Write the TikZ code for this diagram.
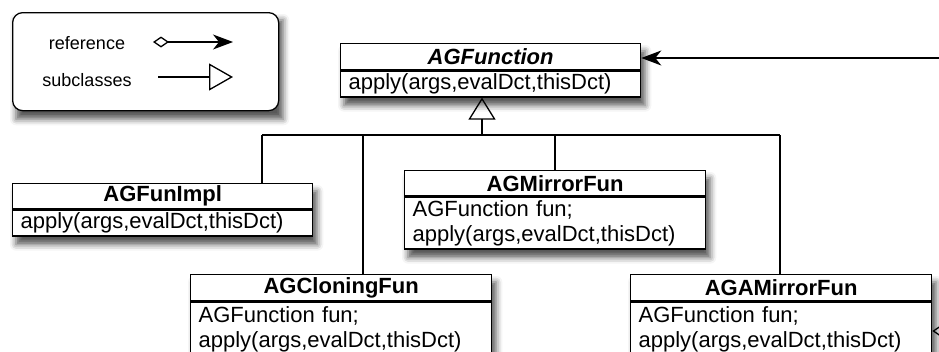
\documentclass[tikz,border=0pt]{standalone}
\usepackage{fontspec}
\setmainfont{Liberation Sans}
\usetikzlibrary{arrows.meta,shadows.blur,backgrounds}
\tikzset{
 cls/.style={draw, line width=1.3pt, fill=white, anchor=north west, inner xsep=8pt, inner ysep=0pt},
 hdr/.style={cls, font=\fontsize{22}{25}\selectfont\bfseries, align=center},
 bdy/.style={cls, font=\fontsize{22}{25}\selectfont, align=left},
 shd/.style={blur shadow={shadow xshift=4pt, shadow yshift=-8pt, shadow opacity=65, shadow blur radius=6pt}},
 conn/.style={line width=1.3pt},
 lgtext/.style={font=\fontsize{18}{20}\selectfont},
 reftip/.style={-{Stealth[length=20pt,width=15pt,inset=6pt]}},
}
\begin{document}
\begin{tikzpicture}[x=1pt,y=-1pt]
\useasboundingbox (0,0) rectangle (939,351);
\clip (0,0) rectangle (939,351);

% legend
\node[draw, line width=1.3pt, rounded corners=10pt, fill=white, anchor=north west,
      minimum width=266pt, minimum height=98pt, inner sep=0pt] (leg) at (12,12) {};
\node[lgtext] (lref) at (87,43) {reference};
\node[lgtext] (lsub) at (87,80) {subclasses};
\coordinate (r1) at (153,42); \coordinate (r2) at (233,42);
\coordinate (s1) at (158,77); \coordinate (s2) at (233,77);
\draw[conn, {Diamond[open,length=16pt,width=11pt]}-{Stealth[length=20pt,width=15pt,inset=6pt]}] (r1) -- (r2);
\draw[conn, -{Triangle[open,length=24pt,width=27pt]}] (s1) -- (s2);

% classes
\node[hdr, minimum width=300pt, minimum height=26pt] (fun) at (340,43) {\textit{AGFunction}};
\node[bdy, text width=284pt, minimum height=26pt] (funb) at (fun.south west) {apply(args,evalDct,thisDct)};

\node[hdr, minimum width=300pt, minimum height=25pt] (impl) at (12,183) {AGFunImpl};
\node[bdy, text width=284pt, minimum height=26pt] (implb) at (impl.south west) {apply(args,evalDct,thisDct)};

\node[hdr, minimum width=301pt, minimum height=25pt] (mirr) at (404,170) {AGMirrorFun};
\node[bdy, text width=285pt, minimum height=52pt] (mirrb) at (mirr.south west) {AGFunction fun;\\apply(args,evalDct,thisDct)};

\node[hdr, minimum width=301pt, minimum height=26pt] (clon) at (190,274) {AGCloningFun};
\node[bdy, text width=285pt, minimum height=54pt] (clonb) at (clon.south west) {AGFunction fun;\\apply(args,evalDct,thisDct)};

\node[hdr, minimum width=301pt, minimum height=26pt] (amir) at (630,274) {AGAMirrorFun};
\node[bdy, text width=285pt, minimum height=54pt] (amirb) at (amir.south west) {AGFunction fun;\\apply(args,evalDct,thisDct)};

% inheritance
\coordinate (jc) at (482,135);
\coordinate (b1) at (262,135);
\coordinate (b2) at (363,135);
\coordinate (b3) at (555,135);
\coordinate (b4) at (780,135);
\draw[conn, -{Triangle[open,length=22pt,width=27pt]}] (jc) -- (jc |- funb.south);
\draw[conn] (b1) -- (b4);
\draw[conn] (b1) -- (b1 |- impl.north);
\draw[conn] (b2) -- (b2 |- clon.north);
\draw[conn] (b3) -- (b3 |- mirr.north);
\draw[conn] (b4) -- (b4 |- amir.north);

% references
\coordinate (rin) at (945,58);
\draw[conn, reftip] (rin) -- (rin -| fun.east);
\coordinate (dout) at (955,331);
\draw[conn, {Diamond[open,length=16pt,width=11pt]}-] (amirb.east |- dout) -- (dout);

% shadows
\begin{scope}[on background layer]
 \path[shd] (leg.north west) rectangle (leg.south east);
 \path[shd] (fun.north west) rectangle (funb.south east);
 \path[shd] (impl.north west) rectangle (implb.south east);
 \path[shd] (mirr.north west) rectangle (mirrb.south east);
 \path[shd] (clon.north west) rectangle (clonb.south east);
 \path[shd] (amir.north west) rectangle (amirb.south east);
\end{scope}
\end{tikzpicture}
\end{document}
